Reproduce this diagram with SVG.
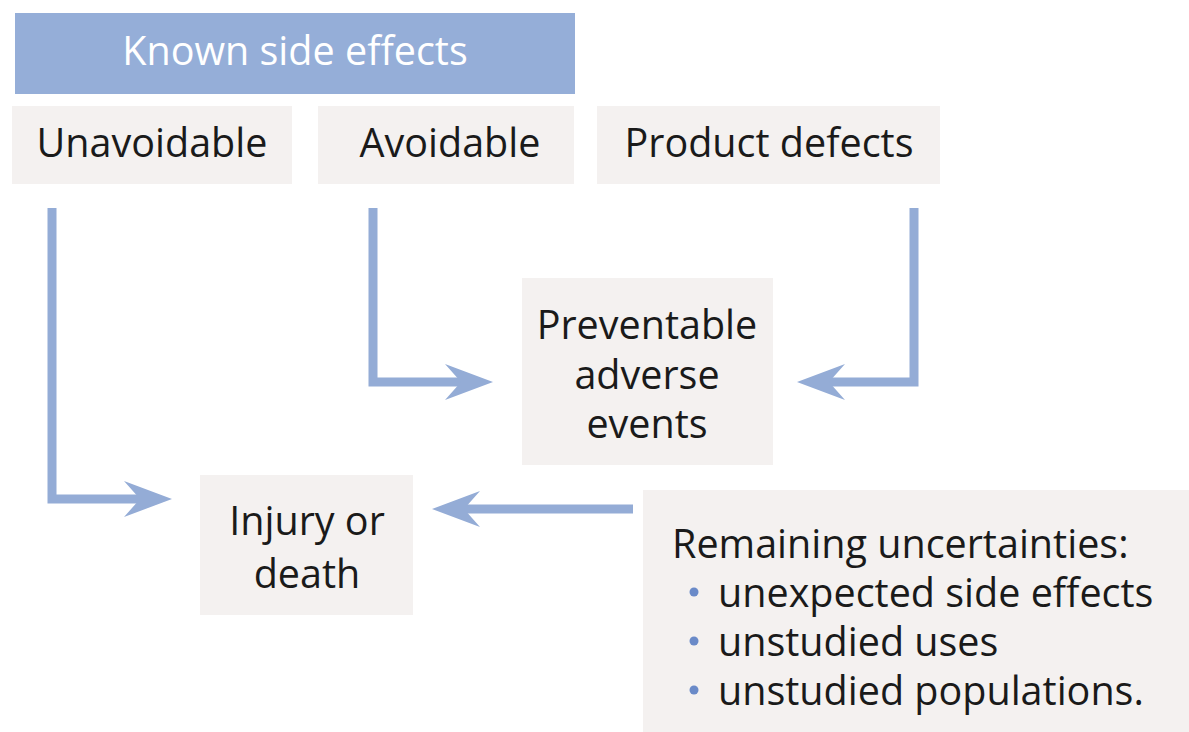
<svg xmlns="http://www.w3.org/2000/svg" width="1189" height="732" viewBox="0 0 1189 732">
<style>
.box{fill:#f4f1f0}
.t{font-family:"Open Sans","Liberation Sans",sans-serif;font-size:39.5px;fill:#1a1a1a;text-anchor:middle}
.tl{font-family:"Open Sans","Liberation Sans",sans-serif;font-size:39.5px;fill:#1a1a1a}
.conn{fill:none;stroke:#94acd6;stroke-width:9;stroke-linejoin:miter;stroke-linecap:butt}
</style>
<defs>
<marker id="ah" viewBox="0 0 48 36" refX="16" refY="18" markerWidth="48" markerHeight="36" markerUnits="userSpaceOnUse" orient="auto">
<path d="M0,0 L48,18 L0,36 L16,18 Z" fill="#94acd6"/>
</marker>
</defs>
<rect width="1189" height="732" fill="#ffffff"/>
<g id="header">
<rect x="15" y="13" width="560" height="81" fill="#95aed8"/>
<text x="295" y="65" class="t" style="fill:#ffffff">Known side effects</text>
</g>
<g id="unavoidable">
<rect class="box" x="12" y="106" width="280" height="78"/>
<text x="152" y="157" class="t">Unavoidable</text>
</g>
<g id="avoidable">
<rect class="box" x="318" y="106" width="256" height="78"/>
<text x="450" y="157" class="t">Avoidable</text>
</g>
<g id="product">
<rect class="box" x="597" y="106" width="343" height="78"/>
<text x="769" y="157" class="t">Product defects</text>
</g>
<g id="preventable">
<rect class="box" x="522" y="278" width="251" height="187"/>
<text x="647" y="339" class="t">Preventable</text>
<text x="647" y="389" class="t">adverse</text>
<text x="647" y="438" class="t">events</text>
</g>
<g id="injury">
<rect class="box" x="200" y="475" width="213" height="140"/>
<text x="307" y="535" class="t">Injury or</text>
<text x="307" y="588" class="t">death</text>
</g>
<g id="remaining">
<rect class="box" x="643" y="490" width="546" height="242"/>
<text x="672" y="558" class="tl">Remaining uncertainties:</text>
<circle cx="694" cy="592" r="4.5" fill="#6a8ac8"/>
<circle cx="694" cy="641" r="4.5" fill="#6a8ac8"/>
<circle cx="694" cy="690" r="4.5" fill="#6a8ac8"/>
<text x="718" y="607" class="tl">unexpected side effects</text>
<text x="718" y="656" class="tl">unstudied uses</text>
<text x="718" y="705" class="tl">unstudied populations.</text>
</g>
<g id="connectors">
<path class="conn" d="M52,208 V499 H140" marker-end="url(#ah)"/>
<path class="conn" d="M373,208 V382 H461" marker-end="url(#ah)"/>
<path class="conn" d="M914,208 V382 H829" marker-end="url(#ah)"/>
<path class="conn" d="M633,509 H464" marker-end="url(#ah)"/>
</g>
</svg>
